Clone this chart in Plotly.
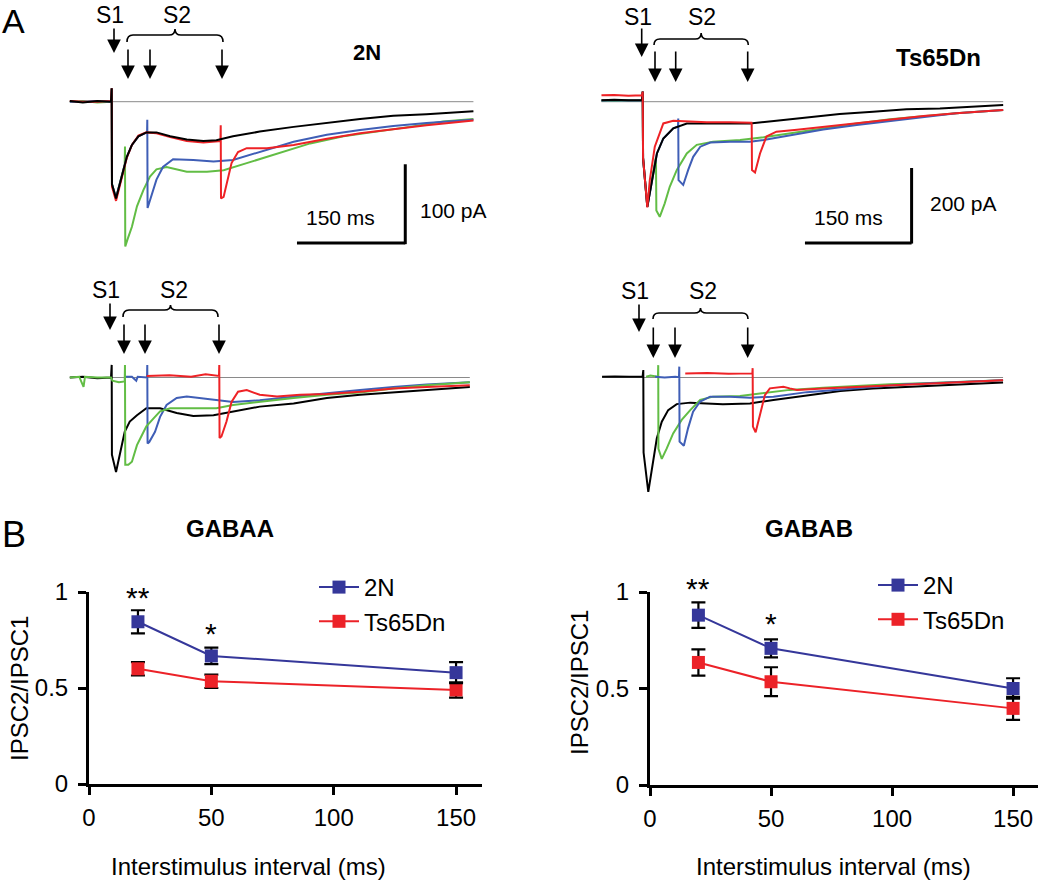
import plotly.graph_objects as go

# ---------------- DATA ----------------
# Panel A traces: (time ms from S1, current pA)
tl_black = [(-58,1),(-40,-1),(-20,1),(-1,0),(0,17),(0.4,-105),(6,-123),(14,-95),(21,-70),(28,-55),(37,-44),(48,-39),(62,-39),(81,-44),(104,-48),(127,-50),(145,-49),(168,-44),(205,-38),(252,-32),(298,-27),(344,-22),(390,-18),(436,-16),(501,-12)]
tl_green = [(-58,0),(-40,1),(-20,-1),(-1,0),(0,17),(0.4,-105),(6,-122),(14,-94),(18,-80),(18.4,-57),(18.8,-184),(23,-172),(28,-159),(35,-133),(44,-112),(53,-95),(62,-86),(76,-83),(104,-89),(132,-89),(155,-87),(187,-78),(229,-66),(275,-53),(321,-44),(367,-38),(413,-32),(459,-25),(501,-22)]
tl_blue = [(-58,0),(-40,0),(-20,1),(-1,0),(0,17),(0.4,-105),(6,-122),(14,-95),(21,-70),(28,-55),(37,-44),(49,-39),(49.3,-23),(49.7,-135),(55,-119),(62,-99),(71,-83),(85,-73),(113,-74),(141,-76),(168,-74),(205,-64),(252,-51),(298,-42),(344,-36),(390,-31),(436,-27),(501,-23)]
tl_red = [(-58,1),(-40,0),(-20,0),(-1,1),(0,17),(0.4,-108),(6,-126),(14,-97),(21,-71),(28,-55),(37,-43),(48,-39),(62,-40),(81,-45),(104,-50),(127,-52),(145,-51),(150.6,-50),(151,-30),(151.4,-123),(155,-121),(159,-104),(166,-78),(175,-64),(187,-59),(215,-59),(252,-55),(298,-47),(344,-40),(390,-35),(436,-30),(501,-24)]

tr_black = [(-58,4),(-40,5),(-20,4),(-1,4),(0,27),(0.5,-150),(6.5,-280),(13,-209),(20,-138),(29,-98),(43,-71),(62,-58),(90,-58),(123,-58),(151,-58),(188,-51),(231,-42),(277,-33),(324,-27),(371,-20),(418,-18),(465,-13),(507,-9)]
tr_green = [(-58,3),(-40,2),(-20,3),(-1,3),(0,27),(0.5,-150),(6.5,-280),(13,-209),(18.3,-150),(18.7,-160),(19.2,-290),(24,-307),(31,-271),(38,-227),(48,-182),(62,-138),(76,-115),(99,-107),(137,-102),(170,-95),(207,-84),(254,-71),(301,-58),(348,-47),(395,-38),(441,-31),(507,-22)]
tr_blue = [(-58,3),(-40,3),(-20,4),(-1,3),(0,27),(0.5,-150),(6.5,-280),(13,-209),(20,-138),(29,-98),(43,-71),(49.6,-66),(50,-45),(50.4,-209),(57,-222),(64,-182),(71,-147),(81,-120),(95,-109),(123,-107),(151,-107),(170,-102),(207,-89),(254,-74),(301,-62),(348,-51),(395,-40),(441,-31),(507,-22)]
tr_red = [(-58,17),(-40,18),(-20,16),(-1,17),(0,27),(0.5,-150),(6.5,-282),(10,-209),(17,-120),(29,-58),(43,-51),(62,-53),(90,-55),(123,-55),(153,-56),(153.3,-62),(153.7,-182),(158,-189),(165,-138),(174,-93),(188,-80),(217,-75),(254,-67),(301,-58),(348,-47),(395,-38),(441,-31),(507,-22)]

bl_black = [(-58,0),(-40,1),(-20,-1),(-1,0),(0,16),(0.3,-98),(6,-120),(11.5,-98),(18,-69),(25,-56),(35,-48),(48,-39),(67,-39),(90,-45),(113,-49),(141,-48),(168,-43),(205,-37),(252,-33),(298,-26),(344,-22),(390,-19),(436,-16),(496,-12)]
bl_green = [(-58,0),(-45,1),(-39,-12),(-37,1),(-20,0),(-1,0),(1,-4),(10,-6),(18,-5),(18.4,16),(18.8,-111),(23,-111),(28,-107),(35,-86),(42,-73),(48,-62),(58,-52),(67,-43),(81,-39),(113,-39),(145,-39),(168,-35),(205,-31),(252,-26),(298,-22),(344,-19),(390,-14),(436,-10),(496,-6)]
bl_blue = [(19,1),(28,1),(34,-4),(36,1),(48.9,0),(49.3,16),(49.7,-84),(52,-82),(60,-69),(67,-50),(76,-35),(90,-26),(104,-24),(122,-26),(145,-29),(168,-31),(205,-29),(252,-24),(298,-20),(344,-16),(390,-12),(436,-9),(496,-6)]
bl_red = [(48.5,2),(80,3),(110,1),(130,4),(148.6,2),(149,16),(149.4,-77),(152,-75),(159,-56),(166,-31),(175,-18),(187,-16),(205,-22),(229,-24),(261,-22),(298,-21),(344,-18),(390,-14),(436,-12),(496,-10)]

br_black = [(-58,2),(-40,3),(-20,2),(-1,2),(0,20),(0.4,-200),(7,-305),(14,-225),(19,-162),(26,-118),(35,-87),(47,-71),(66,-67),(112,-71),(150,-69),(183,-60),(230,-47),(277,-36),(323,-29),(370,-25),(417,-20),(464,-17),(506,-13)]
br_green = [(4,2),(10,5),(20.6,2),(21,33),(21.3,-190),(26,-217),(33,-189),(42,-149),(54,-113),(66,-87),(80,-60),(98,-51),(136,-49),(169,-42),(206,-33),(253,-27),(300,-22),(347,-18),(394,-15),(441,-11),(506,-7)]
br_blue = [(16.5,2),(30,0),(45,2),(50.2,1),(50.6,29),(51,-171),(57,-182),(63,-135),(70,-91),(80,-64),(94,-51),(122,-51),(150,-54),(183,-51),(230,-39),(277,-31),(323,-25),(370,-18),(417,-14),(464,-11),(506,-7)]
br_red = [(59,11),(90,12),(120,10),(153.4,11),(153.8,25),(154.2,-131),(158,-146),(164,-100),(171,-47),(178,-29),(197,-25),(206,-29),(216,-33),(253,-29),(300,-25),(347,-20),(394,-15),(441,-11),(506,-7)]

scalebar_ms = 150
scalebar_pA_left = 100
scalebar_pA_right = 200

# Panel B
intervals = [20, 50, 150]
gabaa_2n = [0.845, 0.667, 0.58]
gabaa_2n_err = [0.06, 0.043, 0.055]
gabaa_ts = [0.60, 0.535, 0.49]
gabaa_ts_err = [0.035, 0.035, 0.04]
gabab_2n = [0.88, 0.708, 0.50]
gabab_2n_err = [0.066, 0.047, 0.053]
gabab_ts = [0.635, 0.535, 0.397]
gabab_ts_err = [0.068, 0.075, 0.06]
y_ticks = [0, 0.5, 1]
y_ticklabels = ["0", "0.5", "1"]
x_ticks = [0, 50, 100, 150]

# ---------------- LAYOUT HELPERS ----------------
W, H = 1050, 883
def PX(x): return x / W
def PY(y): return 1 - y / H

FONT = "Liberation Sans, Arial, sans-serif"
NARROW = "Liberation Sans Narrow, Arial Narrow, Liberation Sans, Arial, sans-serif"
C_BLACK = "#000000"
C_GREEN = "#62bd45"
C_BLUE = "#3f5eb6"
C_RED = "#ee2226"
C_2N = "#35379a"
C_TS = "#ec2228"

fig = go.Figure()

# trace panels: box in pixels (x0,x1,y0,y1), origin pixel, scale px per unit
panels = {
    1: dict(box=(60, 480, 78, 262), ox=111.7, oy=101.7, sx=0.722, sy=0.787),
    2: dict(box=(590, 1010, 78, 262), ox=642.7, oy=101.7, sx=0.711, sy=0.375),
    3: dict(box=(60, 480, 355, 505), ox=111.7, oy=377.5, sx=0.722, sy=0.787),
    4: dict(box=(590, 1010, 355, 505), ox=643.3, oy=377.5, sx=0.711, sy=0.375),
}
layout_axes = {}
for n, p in panels.items():
    x0, x1, y0, y1 = p["box"]
    xr = [(x0 - p["ox"]) / p["sx"], (x1 - p["ox"]) / p["sx"]]
    yr = [-(y1 - p["oy"]) / p["sy"], -(y0 - p["oy"]) / p["sy"]]
    sfx = "" if n == 1 else str(n)
    layout_axes["xaxis" + sfx] = dict(domain=[PX(x0), PX(x1)], range=xr, visible=False, anchor="y" + sfx)
    layout_axes["yaxis" + sfx] = dict(domain=[PY(y1), PY(y0)], range=yr, visible=False, anchor="x" + sfx)

def add_trace_set(n, order):
    sfx = "" if n == 1 else str(n)
    for data, col in order:
        fig.add_trace(go.Scatter(x=[d[0] for d in data], y=[d[1] for d in data], mode="lines",
                                 line=dict(color=col, width=2), showlegend=False,
                                 xaxis="x" + sfx, yaxis="y" + sfx, hoverinfo="skip"))

shapes = []
# baselines
for n, (t0, t1) in {1: (-58, 501), 2: (-58, 507), 3: (-58, 496), 4: (-58, 506)}.items():
    sfx = "" if n == 1 else str(n)
    shapes.append(dict(type="line", xref="x" + sfx, yref="y" + sfx, x0=t0, x1=t1, y0=0, y1=0,
                       line=dict(color="#8a8a8a", width=1), layer="below"))

add_trace_set(1, [(tl_green, C_GREEN), (tl_blue, C_BLUE), (tl_red, C_RED), (tl_black, C_BLACK)])
add_trace_set(2, [(tr_green, C_GREEN), (tr_blue, C_BLUE), (tr_black, C_BLACK), (tr_red, C_RED)])
add_trace_set(3, [(bl_black, C_BLACK), (bl_blue, C_BLUE), (bl_green, C_GREEN), (bl_red, C_RED)])
add_trace_set(4, [(br_black, C_BLACK), (br_green, C_GREEN), (br_blue, C_BLUE), (br_red, C_RED)])

# scale bars (data units)
for sfx, tx, iy, pa in [("", 256.6, -179.5, scalebar_pA_left), ("2", 228.2, -376.8, scalebar_pA_right)]:
    shapes.append(dict(type="line", xref="x" + sfx, yref="y" + sfx, x0=tx, x1=tx + scalebar_ms, y0=iy, y1=iy,
                       line=dict(color="black", width=3)))
    shapes.append(dict(type="line", xref="x" + sfx, yref="y" + sfx, x0=tx + scalebar_ms, x1=tx + scalebar_ms,
                       y0=iy - 1.5, y1=iy + pa, line=dict(color="black", width=3)))

annotations = []
def text(x, y, s, size, bold=False, family=FONT, **kw):
    annotations.append(dict(x=PX(x), y=PY(y), xref="paper", yref="paper", text=("<b>%s</b>" % s) if bold else s,
                            showarrow=False, font=dict(family=family, size=size, color="black"),
                            xanchor="center", yanchor="middle", **kw))

def arrow(x, ytail, ytip):
    annotations.append(dict(x=PX(x), y=PY(ytip), xref="paper", yref="paper", ax=0, ay=-(ytip - ytail),
                            axref="pixel", ayref="pixel", text="", showarrow=True, arrowhead=2,
                            arrowsize=1.7, arrowwidth=1.6, arrowcolor="black", standoff=0))

def brace(x0, x1, yh, yend, ypeak, r=6):
    xm = (x0 + x1) / 2
    pts = [("M", [(x0, yend)]), ("Q", [(x0, yh), (x0 + r, yh)]), ("L", [(xm - r, yh)]),
           ("Q", [(xm, yh), (xm, ypeak)]), ("Q", [(xm, yh), (xm + r, yh)]), ("L", [(x1 - r, yh)]),
           ("Q", [(x1, yh), (x1, yend)])]
    path = " ".join(cmd + " " + " ".join("%.5f,%.5f" % (PX(a), PY(b)) for a, b in p) for cmd, p in pts)
    shapes.append(dict(type="path", xref="paper", yref="paper", path=path, line=dict(color="black", width=1.6)))

# stimulus marks
stim = [
    (114, 15, 27, 53, [128, 150, 222], 48, 79, 127, 223, 35, 42, 29, 177),
    (641.7, 17, 27, 57, [655, 675.7, 747.7], 50, 82, 654, 748.3, 39, 45, 33, 701.7),
    (110, 290, 302, 330, [124, 145, 219], 323, 354, 123, 218, 310, 317, 305, 174),
    (639, 291, 303, 332, [653.3, 675, 747.7], 326, 358, 653, 748, 313, 319, 308, 703),
]
for (s1x, ly, s1a, s1b, s2xs, s2a, s2b, bx0, bx1, byh, bye, byp, s2lx) in stim:
    text(s1x - 4, ly, "S1", 23, family=NARROW)
    text(s2lx, ly, "S2", 23, family=NARROW)
    arrow(s1x, s1a, s1b)
    for xx in s2xs:
        arrow(xx, s2a, s2b)
    brace(bx0, bx1, byh, bye, byp)

text(13, 21, "A", 34)
text(14, 534, "B", 36)
text(367, 53, "2N", 22, bold=True)
text(938, 57, "Ts65Dn", 24, bold=True)
text(340, 218, "150 ms", 21)
text(453, 210, "100 pA", 21)
text(848, 217, "150 ms", 21)
text(963, 203, "200 pA", 21)
text(230, 528, "GABAA", 24, bold=True)
text(809, 528, "GABAB", 24, bold=True)
text(19, 689, "IPSC2/IPSC1", 24, textangle=-90)
text(579, 683, "IPSC2/IPSC1", 24, textangle=-90)
text(248, 866, "Interstimulus interval (ms)", 24)
text(833, 866, "Interstimulus interval (ms)", 24)
# significance stars
text(138, 597, "**", 30)
text(211, 633, "*", 30)
text(698, 588, "**", 30)
text(771, 623, "*", 30)

# ---------------- PANEL B ----------------
def b_axes(xd0, xd1, yd0, yd1, xmax, sfx):
    ax = dict(showline=True, linewidth=3, linecolor="black", ticks="outside", ticklen=8, tickwidth=3,
              tickcolor="black", showgrid=False, zeroline=False,
              tickfont=dict(family=FONT, size=24, color="black"))
    layout_axes["xaxis" + sfx] = dict(ax, domain=[PX(xd0), PX(xd1)], range=[0, xmax], tickvals=x_ticks,
                                      anchor="y" + sfx, ticklabelstandoff=2)
    layout_axes["yaxis" + sfx] = dict(ax, domain=[PY(yd1), PY(yd0)], range=[0, 1], tickvals=y_ticks,
                                      ticktext=y_ticklabels, anchor="x" + sfx, ticklabelstandoff=5)

b_axes(89, 482, 592, 784, 160.6, "5")
b_axes(650, 1038, 592, 785, 160.3, "6")

def b_series(y, err, color, name, sfx, legend, show):
    fig.add_trace(go.Scatter(x=intervals, y=y, mode="lines+markers", name=name,
                             line=dict(color=color, width=2),
                             marker=dict(symbol="square", size=13, color=color),
                             error_y=dict(type="data", array=err, color="black", thickness=2.2, width=7),
                             xaxis="x" + sfx, yaxis="y" + sfx, legend=legend, showlegend=show))

b_series(gabaa_ts, gabaa_ts_err, C_TS, "Ts65Dn", "5", "legend", True)
b_series(gabaa_2n, gabaa_2n_err, C_2N, "2N", "5", "legend", True)
b_series(gabab_ts, gabab_ts_err, C_TS, "Ts65Dn", "6", "legend2", True)
b_series(gabab_2n, gabab_2n_err, C_2N, "2N", "6", "legend2", True)

leg = dict(bgcolor="rgba(0,0,0,0)", font=dict(family=FONT, size=24, color="black"), xanchor="left",
           yanchor="top", traceorder="reversed", itemwidth=40, tracegroupgap=0)

fig.update_layout(
    width=W, height=H, margin=dict(l=0, r=0, t=0, b=0, autoexpand=False),
    plot_bgcolor="white", paper_bgcolor="white",
    showlegend=True, shapes=shapes, annotations=annotations,
    legend=dict(leg, x=PX(314), y=PY(565)),
    legend2=dict(leg, x=PX(873), y=PY(563)),
    **layout_axes,
)

fig.write_html("out.html", config={"displayModeBar": False},
               post_script="document.body.style.margin='0px';document.body.style.overflow='hidden';")
